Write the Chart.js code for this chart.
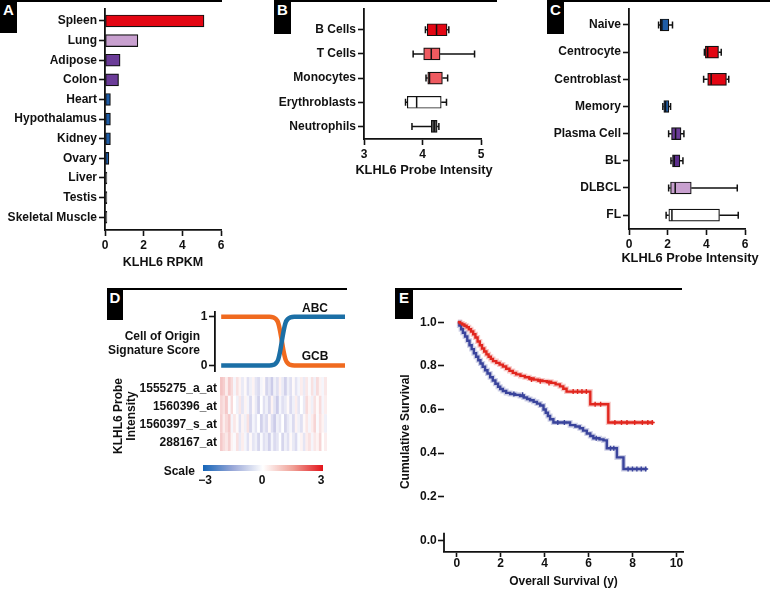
<!DOCTYPE html>
<html>
<head>
<meta charset="utf-8">
<script src="https://cdn.jsdelivr.net/npm/chart.js@4.4.1/dist/chart.umd.min.js"></script>
<style>
  body { margin: 0; background: #fff; }
  #fig { position: relative; width: 770px; height: 589px; overflow: hidden;
    font-family: "Liberation Sans", Arial, sans-serif; font-weight: bold; color: #111; }
  canvas { position: absolute; }
  .rule { position: absolute; height: 1.5px; background: #000; }
  .tag { position: absolute; background: #000; color: #fff; font-size: 15px;
    text-align: center; line-height: 20px; }
  .txt { position: absolute; font-size: 12px; white-space: nowrap; line-height: 14px; }
  .big { font-size: 12.8px; }
  .r { transform: translate(-100%, -50%); text-align: right; }
  .c { transform: translate(-50%, -50%); text-align: center; }
  .rot { transform: translate(-50%, -50%) rotate(-90deg); text-align: center; line-height: 13px; }
  .scalebar { position: absolute; left: 203px; top: 465px; width: 120px; height: 6px;
    background: linear-gradient(to right, #1565b8 0%, #9aa8d8 25%, #fff 50%, #f0a096 75%, #e3141b 100%); }
</style>
</head>
<body>
<div id="fig">
  <div class="rule" style="left:0;top:0;width:222px"></div>
  <div class="rule" style="left:274px;top:0;width:223px"></div>
  <div class="rule" style="left:547px;top:0;width:223px"></div>
  <div class="rule" style="left:107px;top:288px;width:240px"></div>
  <div class="rule" style="left:395px;top:288px;width:287px"></div>

  <div class="tag" style="left:0;top:0;width:17px;height:33px">A</div>
  <div class="tag" style="left:274px;top:0;width:17px;height:34px">B</div>
  <div class="tag" style="left:547px;top:0;width:17px;height:34px">C</div>
  <div class="tag" style="left:107px;top:288px;width:16px;height:32px">D</div>
  <div class="tag" style="left:395px;top:288px;width:18px;height:31px">E</div>

  <canvas id="chartA" width="232" height="275" style="left:0;top:0"></canvas>
  <canvas id="chartB" width="250" height="185" style="left:250px;top:0"></canvas>
  <canvas id="chartC" width="255" height="275" style="left:515px;top:0"></canvas>
  <canvas id="chartD" width="250" height="90" style="left:100px;top:290px"></canvas>
  <canvas id="heat" width="107" height="74" style="left:220px;top:377px"></canvas>
  <canvas id="chartE" width="295" height="294" style="left:395px;top:295px"></canvas>

  <div class="txt big c" style="left:424px;top:170px">KLHL6 Probe Intensity</div>
  <div class="txt big c" style="left:690px;top:258px">KLHL6 Probe Intensity</div>

  <div class="txt c" style="left:315px;top:308px">ABC</div>
  <div class="txt c" style="left:315px;top:356px">GCB</div>
  <div class="txt r" style="left:200px;top:336px">Cell of Origin</div>
  <div class="txt r" style="left:200px;top:350px">Signature Score</div>
  <div id="probeLabels"></div>
  <div class="txt rot" style="left:125px;top:416px">KLHL6 Probe<br>Intensity</div>
  <div class="scalebar"></div>
  <div class="txt r" style="left:195px;top:471px">Scale</div>
  <div class="txt c" style="left:205px;top:480px">&minus;3</div>
  <div class="txt c" style="left:262px;top:480px">0</div>
  <div class="txt c" style="left:321px;top:480px">3</div>
</div>

<script>
// ---------------- data ----------------

// A: tissue expression
const tissues = ["Spleen", "Lung", "Adipose", "Colon", "Heart", "Hypothalamus",
  "Kidney", "Ovary", "Liver", "Testis", "Skeletal Muscle"];
const rpkm = [5.12, 1.7, 0.78, 0.7, 0.28, 0.28, 0.28, 0.2, 0.1, 0.1, 0.1];
const rpkmTicks = [0, 2, 4, 6];

// B: blood cells
const bloodCells = ["B Cells", "T Cells", "Monocytes", "Erythroblasts", "Neutrophils"];
const bloodMin = [4.05, 3.84, 4.06, 3.71, 3.82];
const bloodQ1 = [4.08, 4.02, 4.09, 3.74, 4.15];
const bloodMed = [4.24, 4.15, 4.12, 3.90, 4.20];
const bloodQ3 = [4.42, 4.30, 4.34, 4.32, 4.25];
const bloodMax = [4.45, 4.89, 4.43, 4.41, 4.28];
const bloodTicks = [3, 4, 5];

// C: B-cell subsets and lymphomas
const bSubsets = ["Naive", "Centrocyte", "Centroblast", "Memory", "Plasma Cell", "BL", "DLBCL", "FL"];
const subMin = [1.53, 3.90, 3.86, 1.75, 2.05, 2.17, 2.05, 1.92];
const subQ1 = [1.61, 3.95, 4.07, 1.80, 2.20, 2.25, 2.15, 2.06];
const subMed = [1.70, 4.07, 4.25, 1.89, 2.41, 2.34, 2.39, 2.22];
const subQ3 = [2.06, 4.63, 5.04, 2.06, 2.69, 2.63, 3.22, 4.68];
const subMax = [2.25, 4.77, 5.16, 2.15, 2.84, 2.79, 5.60, 5.65];
const subTicks = [0, 2, 4, 6];

// D: cell of origin score (samples ordered by score)
const samplePos = [0, 39, 42, 44, 46, 47.5, 49, 50.5, 52, 54, 56, 59, 100];
const gcbScore = [1, 1, 0.99, 0.96, 0.88, 0.72, 0.5, 0.28, 0.12, 0.04, 0.01, 0, 0];
const abcScore = [0, 0, 0.01, 0.04, 0.12, 0.28, 0.5, 0.72, 0.88, 0.96, 0.99, 1, 1];
const scoreTicks = [0, 1];

// D: probe heatmap (z-scores)
const probes = ["1555275_a_at", "1560396_at", "1560397_s_at", "288167_at"];
const heatRow1 = [1.0, 0.8, 0.3, 0.9, 0.6, -0.2, 0.5, 0.2, -0.4, 0.1, -0.6, -0.3, 0.2, -0.5, -0.7, -0.2, 0.1, -0.8, -0.5, -1.0,
  -0.3, -0.6, 0.2, -0.4, -0.9, -0.3, -0.6, 0.1, -0.5, -0.2, 0.3, -0.4, 0.4, -0.1, 0.5, -0.3, 0.6, 0.2, -0.2, 0.4];
const heatRow2 = [0.7, 0.5, 0.9, -0.1, 0.6, 0.0, -0.3, 0.4, -0.5, 0.2, -0.2, -0.7, 0.1, -0.4, -0.9, 0.0, -0.6, -0.3, -0.8, 0.2,
  -0.5, -1.0, -0.2, -0.6, -0.4, 0.1, -0.7, -0.3, 0.3, -0.5, 0.0, -0.4, 0.6, 0.2, -0.3, 0.5, 0.1, 0.6, -0.2, 0.3];
const heatRow3 = [0.8, 0.3, 0.6, 0.9, -0.2, 0.4, 0.1, -0.6, 0.2, -0.3, 0.5, -0.8, -0.2, -0.5, 0.0, -0.9, -0.4, -0.7, 0.1, -0.6,
  -1.0, -0.3, -0.5, 0.0, -0.8, -0.4, -0.2, -0.7, 0.2, -0.3, -0.6, 0.1, 0.4, -0.2, 0.3, 0.7, -0.1, 0.5, 0.2, -0.3];
const heatRow4 = [0.9, 0.6, 0.4, 0.8, 0.2, -0.1, 0.5, -0.4, 0.3, -0.2, -0.6, 0.1, -0.5, -0.3, -0.8, -0.1, -0.6, -0.4, -0.9, -0.2,
  -0.7, -0.5, 0.0, -0.8, -0.3, -0.6, 0.1, -0.4, -0.7, -0.1, 0.2, -0.5, 0.3, 0.5, -0.2, 0.4, 0.2, 0.7, 0.0, 0.3];

// E: Kaplan-Meier curves
const highTime = [0.05, 0.15, 0.25, 0.35, 0.45, 0.55, 0.65, 0.75, 0.85, 0.95, 1.05, 1.15, 1.25, 1.35, 1.45, 1.55, 1.65,
  1.8, 1.95, 2.1, 2.25, 2.4, 2.55, 2.7, 2.9, 3.1, 3.3, 3.5, 3.7, 3.9, 4.1, 4.3, 4.5, 4.7, 4.85, 5.0, 6.08, 6.9, 8.95];
const highSurv = [1.0, 0.995, 0.99, 0.984, 0.977, 0.968, 0.958, 0.945, 0.93, 0.912, 0.895, 0.88, 0.866, 0.853, 0.842,
  0.832, 0.822, 0.814, 0.806, 0.797, 0.787, 0.777, 0.768, 0.761, 0.754, 0.748, 0.742, 0.737, 0.733, 0.73, 0.727, 0.722,
  0.715, 0.706, 0.695, 0.682, 0.624, 0.54, 0.54];
const highCensorT = [3.4, 3.8, 4.2, 5.3, 5.5, 5.7, 5.9, 6.3, 6.55, 7.2, 7.5, 7.75, 8.1, 8.45, 8.7, 8.9];
const highCensorS = [0.737, 0.73, 0.722, 0.682, 0.682, 0.682, 0.682, 0.624, 0.624, 0.54, 0.54, 0.54, 0.54, 0.54, 0.54, 0.54];

const lowTime = [0.05, 0.12, 0.2, 0.28, 0.38, 0.48, 0.58, 0.68, 0.78, 0.88, 0.98, 1.08, 1.18, 1.29, 1.4, 1.52, 1.64, 1.76,
  1.88, 1.98, 2.1, 2.25, 2.43, 2.65, 2.88, 3.05, 3.2, 3.34, 3.5, 3.65, 3.8, 3.95, 4.05, 4.15, 4.25, 4.4, 5.16, 5.4, 5.6,
  5.75, 5.92, 6.08, 6.22, 6.5, 6.68, 6.83, 7.29, 7.59, 8.65];
const lowSurv = [1.0, 0.985, 0.968, 0.952, 0.935, 0.915, 0.895, 0.877, 0.858, 0.842, 0.826, 0.811, 0.796, 0.78, 0.765,
  0.748, 0.733, 0.718, 0.704, 0.694, 0.685, 0.676, 0.671, 0.667, 0.662, 0.655, 0.648, 0.642, 0.635, 0.627, 0.618, 0.6,
  0.585, 0.57, 0.555, 0.54, 0.528, 0.522, 0.514, 0.503, 0.49, 0.478, 0.468, 0.463, 0.458, 0.422, 0.38, 0.327, 0.327];
const lowCensorT = [2.6, 3.0, 4.6, 4.9, 6.35, 7.0, 7.15, 7.8, 8.0, 8.2, 8.4, 8.6];
const lowCensorS = [0.671, 0.667, 0.54, 0.54, 0.468, 0.422, 0.422, 0.327, 0.327, 0.327, 0.327, 0.327];
const yearTicks = [0, 2, 4, 6, 8, 10];
const survTicks = [0, 0.2, 0.4, 0.6, 0.8, 1.0];

// ---------------- styles ----------------
const RED = "#e30613", SALMON = "#ee5a60", PURPLE = "#6b3c98", DPURPLE = "#5b2c8c",
  LPURPLE = "#c8a0cf", BLUE = "#1f5da6", GRAY = "#555555", WHITE = "#ffffff", INK = "#111";

const tissueColors = [RED, LPURPLE, PURPLE, PURPLE, BLUE, BLUE, BLUE, BLUE, GRAY, GRAY, GRAY];
const bloodColors = [RED, SALMON, SALMON, WHITE, GRAY];
const subsetColors = [BLUE, RED, RED, BLUE, PURPLE, DPURPLE, LPURPLE, WHITE];

Chart.defaults.font.family = '"Liberation Sans", Arial, sans-serif';
Chart.defaults.font.size = 12;
Chart.defaults.font.weight = "bold";
Chart.defaults.color = INK;
Chart.defaults.animation = false;
Chart.defaults.plugins.legend.display = false;
Chart.defaults.plugins.tooltip.enabled = false;

function axisGrid() {
  return { drawOnChartArea: false, drawTicks: true, tickLength: 6, tickWidth: 1.6, tickColor: INK, offset: false };
}
function axisBorder() {
  return { display: true, color: INK, width: 1.8 };
}
function fixTicks(values) {
  return (scale) => { scale.ticks = values.map((v) => ({ value: v })); };
}

// whiskers and medians for the box plots, placed with the chart's scales
function boxWhiskers(mins, meds, q1s, q3s, maxs) {
  return {
    id: "boxWhiskers",
    afterDatasetsDraw(chart) {
      const { ctx, scales: { x, y } } = chart;
      ctx.save();
      ctx.strokeStyle = INK;
      ctx.lineWidth = 1.5;
      mins.forEach((mn, i) => {
        const py = y.getPixelForValue(i);
        const a = x.getPixelForValue(mn);
        const b = x.getPixelForValue(q1s[i]);
        const c = x.getPixelForValue(q3s[i]);
        const d = x.getPixelForValue(maxs[i]);
        const m = x.getPixelForValue(meds[i]);
        ctx.beginPath();
        ctx.moveTo(a, py); ctx.lineTo(b, py);
        ctx.moveTo(c, py); ctx.lineTo(d, py);
        ctx.moveTo(a, py - 3.5); ctx.lineTo(a, py + 3.5);
        ctx.moveTo(d, py - 3.5); ctx.lineTo(d, py + 3.5);
        ctx.moveTo(m, py - 5.5); ctx.lineTo(m, py + 5.5);
        ctx.stroke();
      });
      ctx.restore();
    },
  };
}

// ---------------- A ----------------
new Chart(document.getElementById("chartA"), {
  type: "bar",
  data: {
    datasets: [{
      data: rpkm.map((v, i) => ({ x: v, y: i })),
      backgroundColor: tissueColors,
      borderColor: INK,
      borderWidth: 1.2,
      borderSkipped: false,
      barThickness: 12,
    }],
  },
  options: {
    responsive: false,
    indexAxis: "y",
    layout: { padding: { top: 6, right: 11, left: 0, bottom: 0 } },
    scales: {
      y: {
        type: "linear", reverse: true, min: -0.6, max: 10.65, offset: false,
        afterBuildTicks: fixTicks(tissues.map((_, i) => i)),
        afterFit: (s) => { s.width = 105; },
        ticks: { padding: 2, callback: (v) => tissues[v] },
        grid: axisGrid(), border: axisBorder(),
      },
      x: {
        type: "linear", min: 0, max: 6,
        afterBuildTicks: fixTicks(rpkmTicks),
        afterFit: (s) => { s.height = 45; },
        ticks: { padding: 2 },
        grid: axisGrid(), border: axisBorder(),
        title: { display: true, text: "KLHL6 RPKM", font: { size: 12.5 }, padding: { top: 0, bottom: 4.5 } },
      },
    },
  },
});

// ---------------- B ----------------
new Chart(document.getElementById("chartB"), {
  type: "bar",
  data: {
    datasets: [{
      data: bloodQ1.map((q, i) => ({ x: [q, bloodQ3[i]], y: i })),
      backgroundColor: bloodColors,
      borderColor: INK,
      borderWidth: 1.2,
      borderSkipped: false,
      barThickness: 12,
    }],
  },
  options: {
    responsive: false,
    indexAxis: "y",
    layout: { padding: { top: 6, right: 19, left: 0, bottom: 0 } },
    scales: {
      y: {
        type: "linear", reverse: true, min: -0.85, max: 4.52, offset: false,
        afterBuildTicks: fixTicks(bloodCells.map((_, i) => i)),
        afterFit: (s) => { s.width = 114; },
        ticks: { padding: 2, callback: (v) => bloodCells[v] },
        grid: axisGrid(), border: axisBorder(),
      },
      x: {
        type: "linear", min: 3, max: 5,
        afterBuildTicks: fixTicks(bloodTicks),
        afterFit: (s) => { s.height = 46; },
        ticks: { padding: 2 },
        grid: axisGrid(), border: axisBorder(),
      },
    },
  },
  plugins: [boxWhiskers(bloodMin, bloodMed, bloodQ1, bloodQ3, bloodMax)],
});

// ---------------- C ----------------
new Chart(document.getElementById("chartC"), {
  type: "bar",
  data: {
    datasets: [{
      data: subQ1.map((q, i) => ({ x: [q, subQ3[i]], y: i })),
      backgroundColor: subsetColors,
      borderColor: INK,
      borderWidth: 1.2,
      borderSkipped: false,
      barThickness: 12,
    }],
  },
  options: {
    responsive: false,
    indexAxis: "y",
    layout: { padding: { top: 6, right: 25, left: 0, bottom: 0 } },
    scales: {
      y: {
        type: "linear", reverse: true, min: -0.58, max: 7.51, offset: false,
        afterBuildTicks: fixTicks(bSubsets.map((_, i) => i)),
        afterFit: (s) => { s.width = 114; },
        ticks: { padding: 2, callback: (v) => bSubsets[v] },
        grid: axisGrid(), border: axisBorder(),
      },
      x: {
        type: "linear", min: 0, max: 6,
        afterBuildTicks: fixTicks(subTicks),
        afterFit: (s) => { s.height = 46; },
        ticks: { padding: 2 },
        grid: axisGrid(), border: axisBorder(),
      },
    },
  },
  plugins: [boxWhiskers(subMin, subMed, subQ1, subQ3, subMax)],
});

// ---------------- D: score curves ----------------
new Chart(document.getElementById("chartD"), {
  type: "line",
  data: {
    datasets: [
      {
        label: "ABC",
        data: samplePos.map((p, i) => ({ x: p, y: abcScore[i] })),
        borderColor: "#1b6fa6", borderWidth: 4.5, pointRadius: 0,
        cubicInterpolationMode: "monotone",
      },
      {
        label: "GCB",
        data: samplePos.map((p, i) => ({ x: p, y: gcbScore[i] })),
        borderColor: "#f06a1f", borderWidth: 4.5, pointRadius: 0,
        cubicInterpolationMode: "monotone",
      },
    ],
  },
  options: {
    responsive: false,
    layout: { padding: { top: 22, right: 5, left: 0, bottom: 7 } },
    scales: {
      x: { type: "linear", min: -5, max: 100, display: false },
      y: {
        type: "linear", min: -0.12, max: 1.1,
        afterBuildTicks: fixTicks(scoreTicks),
        afterFit: (s) => { s.width = 115; },
        ticks: { padding: 1.5 },
        grid: axisGrid(), border: axisBorder(),
      },
    },
  },
});

// ---------------- D: heatmap ----------------
const heatRows = [heatRow1, heatRow2, heatRow3, heatRow4];
function mix(a, b, t) {
  return a.map((v, i) => Math.round(v + (b[i] - v) * t));
}
function heatColor(v) {
  const white = [255, 255, 255];
  const pinkMid = [238, 165, 165], lavMid = [178, 178, 222];
  const t = Math.min(Math.abs(v), 3);
  let c;
  if (v >= 0) c = t <= 1.5 ? mix(white, pinkMid, t / 1.5) : mix(pinkMid, [227, 20, 27], (t - 1.5) / 1.5);
  else c = t <= 1.5 ? mix(white, lavMid, t / 1.5) : mix(lavMid, [21, 101, 184], (t - 1.5) / 1.5);
  return `rgb(${c[0]},${c[1]},${c[2]})`;
}

new Chart(document.getElementById("heat"), {
  type: "bar",
  data: {
    labels: heatRow1.map((_, i) => i + 1),
    datasets: heatRows.map((row, r) => ({
      label: probes[r],
      data: row.map(() => 1),
      backgroundColor: row.map(heatColor),
      borderColor: row.map(heatColor),
      borderWidth: 0.5,
      borderSkipped: false,
      barPercentage: 1,
      categoryPercentage: 1,
    })),
  },
  options: {
    responsive: false,
    layout: { padding: 0 },
    scales: {
      x: { stacked: true, display: false },
      y: { stacked: true, display: false, min: 0, max: 4, reverse: true },
    },
  },
});

const probeY = [388, 406, 424, 442];
document.getElementById("probeLabels").innerHTML = probes
  .map((p, i) => `<div class="txt r" style="left:217px;top:${probeY[i]}px">${p}</div>`)
  .join("");

// ---------------- E ----------------
const KM_RED = "#e1261e", KM_BLUE = "#3a449c";

// the y axis line is only drawn near the origin in the original
const stubAxis = {
  id: "stubAxis",
  afterDraw(chart) {
    const { ctx, scales: { x, y } } = chart;
    ctx.save();
    ctx.strokeStyle = INK;
    ctx.lineWidth = 1.8;
    ctx.beginPath();
    ctx.moveTo(x.left, y.getPixelForValue(-0.054));
    ctx.lineTo(x.left, y.getPixelForValue(0.034));
    ctx.stroke();
    ctx.restore();
  },
};

function kmLine(times, surv, color, width) {
  return {
    data: times.map((t, i) => ({ x: t, y: surv[i] })),
    stepped: true, borderColor: color, borderWidth: width, pointRadius: 0, fill: false,
  };
}
function kmCensor(times, surv, color) {
  return {
    data: times.map((t, i) => ({ x: t, y: surv[i] })),
    showLine: false, pointStyle: "cross", pointRadius: 2.5, borderColor: color,
    borderWidth: 1.4, backgroundColor: color,
  };
}

new Chart(document.getElementById("chartE"), {
  type: "line",
  data: {
    datasets: [
      kmCensor(highCensorT, highCensorS, KM_RED),
      kmCensor(lowCensorT, lowCensorS, KM_BLUE),
      kmLine(highTime, highSurv, KM_RED, 2.4),
      kmLine(lowTime, lowSurv, KM_BLUE, 2.4),
      kmLine(highTime, highSurv, "rgba(225,38,30,0.25)", 5),
      kmLine(lowTime, lowSurv, "rgba(58,68,156,0.25)", 5),
    ],
  },
  options: {
    responsive: false,
    layout: { padding: { top: 16.4, right: 7, left: 0, bottom: 0 } },
    scales: {
      x: {
        type: "linear", min: -0.58, max: 10.3,
        afterBuildTicks: fixTicks(yearTicks),
        afterFit: (s) => { s.height = 37; },
        ticks: { padding: -1 },
        grid: { drawOnChartArea: false, drawTicks: true, tickLength: 5, tickWidth: 1.6, tickColor: INK },
        border: axisBorder(),
        title: { display: true, text: "Overall Survival (y)", font: { size: 12 }, padding: { top: 0, bottom: 0 } },
      },
      y: {
        type: "linear", min: -0.054, max: 1.05,
        afterBuildTicks: fixTicks(survTicks),
        afterFit: (s) => { s.width = 49; },
        ticks: { padding: 1.3, callback: (v) => Number(v).toFixed(1) },
        grid: axisGrid(),
        border: { display: false },
        title: { display: true, text: "Cumulative Survival", font: { size: 12 }, padding: { top: 3.8, bottom: 0 } },
      },
    },
  },
  plugins: [stubAxis],
});
</script>
</body>
</html>
